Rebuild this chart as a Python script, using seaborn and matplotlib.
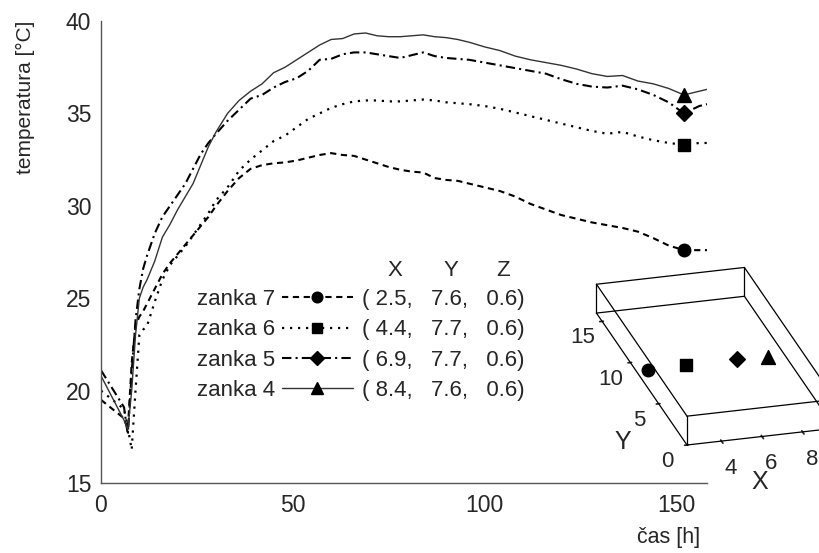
"""
Temperature in four measuring loops over time, with a small 3D inset
that shows where the loops sit.
"""

import itertools

import matplotlib
matplotlib.use('Agg')
import matplotlib.pyplot as plt
from matplotlib.lines import Line2D
from mpl_toolkits.mplot3d import proj3d
import pandas as pd
import seaborn as sns

# time axis in hours (shared by all four loops)
time_h = [0, 3, 6, 7, 8, 9, 10, 11, 12, 14, 16, 18, 20, 22, 24, 26, 28, 30,
          33, 36, 39, 42, 45, 48, 51, 54, 57, 60, 63, 66, 69, 72, 75, 78, 81,
          84, 87, 90, 93, 96, 100, 104, 108, 112, 116, 120, 124, 128, 132,
          136, 140, 144, 148, 152, 156, 158]

# temperature readings [°C]
zanka_7 = [19.5, 19.0, 18.5, 17.9, 21.5, 23.5, 24.0, 24.3, 24.7, 25.5, 26.3,
           26.9, 27.4, 27.9, 28.4, 28.9, 29.4, 30.0, 30.8, 31.5, 32.0, 32.2,
           32.3, 32.35, 32.45, 32.6, 32.75, 32.85, 32.75, 32.7, 32.5, 32.3,
           32.1, 31.95, 31.85, 31.8, 31.5, 31.4, 31.35, 31.2, 31.0, 30.8,
           30.5, 30.1, 29.8, 29.5, 29.3, 29.1, 28.95, 28.8, 28.6, 28.25,
           27.85, 27.6, 27.6, 27.6]
zanka_6 = [20.0, 19.5, 19.0, 18.0, 16.8, 20.0, 23.0, 23.3, 23.5, 24.8, 26.0,
           26.8, 27.3, 27.8, 28.4, 29.0, 29.6, 30.3, 31.0, 31.9, 32.5, 33.0,
           33.5, 33.8, 34.25, 34.7, 35.0, 35.3, 35.5, 35.65, 35.7, 35.7,
           35.65, 35.65, 35.7, 35.75, 35.7, 35.6, 35.55, 35.5, 35.4, 35.25,
           35.05, 34.85, 34.65, 34.45, 34.25, 34.05, 33.9, 34.0, 33.75,
           33.55, 33.4, 33.3, 33.4, 33.4]
zanka_5 = [21.1, 20.1, 19.1, 17.6, 21.0, 23.8, 25.5, 26.6, 27.3, 28.5, 29.4,
           30.0, 30.6, 31.2, 32.0, 32.8, 33.4, 33.9, 34.6, 35.2, 35.8, 36.0,
           36.4, 36.7, 36.9, 37.3, 37.9, 37.95, 38.2, 38.3, 38.3, 38.2, 38.1,
           38.0, 38.15, 38.3, 38.1, 38.0, 37.95, 37.9, 37.75, 37.6, 37.45,
           37.3, 37.15, 36.85, 36.6, 36.45, 36.4, 36.5, 36.3, 36.0, 35.6,
           35.0, 35.4, 35.5]
zanka_4 = [20.8, 19.6, 18.4, 17.9, 20.0, 23.0, 25.0, 25.6, 26.0, 27.0, 28.3,
           29.0, 29.8, 30.5, 31.2, 32.2, 33.2, 34.0, 35.0, 35.7, 36.2, 36.6,
           37.2, 37.5, 37.9, 38.3, 38.7, 39.0, 39.05, 39.3, 39.35, 39.2,
           39.15, 39.15, 39.2, 39.25, 39.15, 39.1, 39.0, 38.85, 38.6, 38.4,
           38.1, 37.9, 37.75, 37.6, 37.4, 37.15, 37.0, 37.05, 36.75, 36.6,
           36.35, 36.0, 36.2, 36.3]

loop_names = ['zanka 7', 'zanka 6', 'zanka 5', 'zanka 4']
loop_x = [2.5, 4.4, 6.9, 8.4]
loop_y = [7.6, 7.7, 7.7, 7.6]
loop_z = [0.6, 0.6, 0.6, 0.6]
marker_time = 152

# looks
line_styles = [(0, (3, 2.2)), (0, (1, 2.6)), (0, (4.5, 2, 1, 2)), '-']
line_widths = [1.5, 1.6, 1.5, 1.0]
line_colors = ['black', 'black', 'black', '#333333']
markers = ['o', 's', 'D', '^']
marker_sizes = [9, 8, 8, 10]

sns.set_theme(style='white')
plt.rcParams['font.family'] = ['Liberation Sans', 'DejaVu Sans']

W, H = 820, 553
fig = plt.figure(figsize=(W / 100, H / 100), dpi=100)
ax = fig.add_axes([101 / W, 1 - 483 / H, 606 / W, 462 / H])

series = [zanka_7, zanka_6, zanka_5, zanka_4]
mark_idx = time_h.index(marker_time)
handles = []
for name, vals, ls, lw, col, mk, ms in zip(loop_names, series, line_styles,
                                           line_widths, line_colors, markers,
                                           marker_sizes):
    df = pd.DataFrame({'cas': time_h, 'temp': vals})
    sns.lineplot(data=df, x='cas', y='temp', ax=ax, color=col, linewidth=lw,
                 linestyle=ls)
    ax.plot(df['cas'].iloc[mark_idx], df['temp'].iloc[mark_idx], marker=mk,
            markersize=ms, color='black', linestyle='none')
    handles.append(Line2D([], [], color=col, linewidth=lw, linestyle=ls,
                          marker=mk, markersize=ms * 0.85,
                          markerfacecolor='black', markeredgecolor='black'))

ax.set_xlim(0, 158)
ax.set_ylim(15, 40)
ax.set_xticks([0, 50, 100, 150])
ax.set_yticks([15, 20, 25, 30, 35, 40])
sns.despine(ax=ax)
for side in ['left', 'bottom']:
    ax.spines[side].set_color('#555555')
    ax.spines[side].set_linewidth(1.0)
ax.tick_params(direction='in', length=7, width=1.0, color='#555555',
               labelsize=16.5)
ax.tick_params(axis='x', pad=8)
ax.tick_params(axis='y', pad=7)
ax.set_xlabel('čas [h]', fontsize=15.5, loc='right', labelpad=12)
ax.xaxis.set_label_coords(1 - 7 / 606, -0.095)
ax.xaxis.label.set_horizontalalignment('right')
ax.set_ylabel('temperatura [°C]', fontsize=15, loc='top', labelpad=22)

# legend: name, sample line, then coordinates
leg_top = 1 - 289 / H
leg_kw = dict(loc='upper left', bbox_transform=fig.transFigure,
              frameon=False, borderpad=0, borderaxespad=0, labelspacing=0.42,
              fontsize=16)
leg1 = ax.legend(handles, loop_names, bbox_to_anchor=(197 / W, leg_top),
                 markerfirst=False, handlelength=3.2, handletextpad=0.3,
                 **leg_kw)
ax.add_artist(leg1)
coord_labels = ['( %.1f,   %.1f,   %.1f)' % (x, y, z)
                for x, y, z in zip(loop_x, loop_y, loop_z)]
blank = [Line2D([], [], linestyle='none') for _ in coord_labels]
ax.legend(blank, coord_labels, bbox_to_anchor=(362 / W, leg_top),
          handlelength=0, handletextpad=0, **leg_kw)
for letter, px in zip(['X', 'Y', 'Z'], [395, 451, 503]):
    fig.text(px / W, 1 - 270 / H, letter, ha='center', va='center',
             fontsize=16)

# inset with loop positions
xlim3, ylim3, zlim3 = (2.3, 9.6), (0.0, 16.0), (0.0, 1.5)
ax3 = fig.add_axes([0.6, 0.05, 0.5, 0.5], projection='3d')
ax3.set_proj_type('ortho')
for mk, x, y, z, ms in zip(markers, loop_x, loop_y, loop_z, marker_sizes):
    ax3.scatter([x], [y], [z], marker=mk, s=ms ** 2, color='black',
                depthshade=False)
corners = list(itertools.product(xlim3, ylim3, zlim3))
for a, b in itertools.combinations(corners, 2):
    if sum(p != q for p, q in zip(a, b)) == 1:
        ax3.plot(*zip(a, b), color='black', linewidth=0.9)
ax3.set_xlim(*xlim3)
ax3.set_ylim(*ylim3)
ax3.set_zlim(*zlim3)
ax3.set_xticks([4, 6, 8])
ax3.set_yticks([0, 5, 10, 15])
ax3.set_zticks([])
ax3.tick_params(labelsize=16)
ax3.xaxis.set_tick_params(pad=6)
ax3.yaxis.set_tick_params(pad=10)
for axis in [ax3.xaxis, ax3.yaxis, ax3.zaxis]:
    axis.set_pane_color((1, 1, 1, 0))
    axis.line.set_color((1, 1, 1, 0))
    axis._axinfo['grid']['linewidth'] = 0
ax3.grid(False)
ax3.set_box_aspect([hi - lo for lo, hi in (xlim3, ylim3, zlim3)])
ax3.view_init(elev=24, azim=-105.6)
ax3.patch.set_alpha(0)
fig.text(760 / W, 1 - 482 / H, 'X', ha='center', va='center', fontsize=18)
fig.text(623 / W, 1 - 442 / H, 'Y', ha='center', va='center', fontsize=18)


def corner_px(pt):
    fig.canvas.draw()
    sx, sy, _ = proj3d.proj_transform(*pt, ax3.get_proj())
    return ax3.transData.transform((sx, sy))


# fit the inset so its front-left corner and left edge match the picture
front = (xlim3[0], ylim3[0], zlim3[0])
back = (xlim3[0], ylim3[1], zlim3[0])
for _ in range(2):
    p0, p1 = corner_px(front), corner_px(back)
    scale = 160.0 / ((p1 - p0) ** 2).sum() ** 0.5
    pos = ax3.get_position()
    ax3.set_position([pos.x0, pos.y0, pos.width * scale, pos.height * scale])
    p0 = corner_px(front)
    pos = ax3.get_position()
    ax3.set_position([pos.x0 + (687 - p0[0]) / W,
                      pos.y0 + ((H - 445) - p0[1]) / H,
                      pos.width, pos.height])

fig.savefig('out.png', dpi=100)
